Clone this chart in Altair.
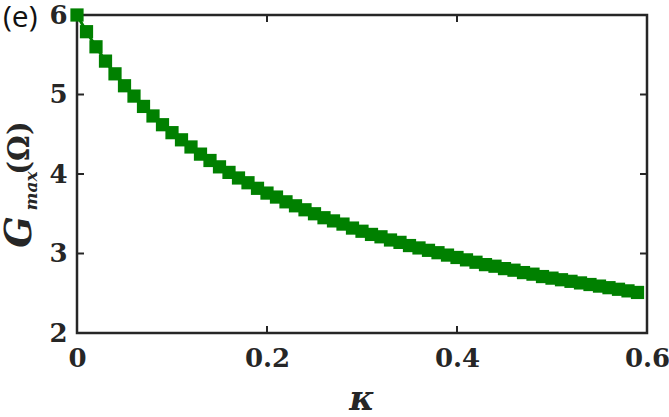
import altair as alt
import pandas as pd

kappa = [0.00, 0.01, 0.02, 0.03, 0.04, 0.05, 0.06, 0.07, 0.08, 0.09,
         0.10, 0.11, 0.12, 0.13, 0.14, 0.15, 0.16, 0.17, 0.18, 0.19,
         0.20, 0.21, 0.22, 0.23, 0.24, 0.25, 0.26, 0.27, 0.28, 0.29,
         0.30, 0.31, 0.32, 0.33, 0.34, 0.35, 0.36, 0.37, 0.38, 0.39,
         0.40, 0.41, 0.42, 0.43, 0.44, 0.45, 0.46, 0.47, 0.48, 0.49,
         0.50, 0.51, 0.52, 0.53, 0.54, 0.55, 0.56, 0.57, 0.58, 0.59]
gmax = [6.00, 5.79, 5.60, 5.42, 5.26, 5.11, 4.98, 4.85, 4.73, 4.62,
        4.52, 4.43, 4.34, 4.25, 4.17, 4.09, 4.02, 3.95, 3.89, 3.82,
        3.76, 3.71, 3.65, 3.60, 3.55, 3.50, 3.45, 3.41, 3.37, 3.32,
        3.28, 3.24, 3.21, 3.17, 3.14, 3.10, 3.07, 3.04, 3.01, 2.98,
        2.95, 2.92, 2.89, 2.86, 2.84, 2.81, 2.79, 2.76, 2.74, 2.71,
        2.69, 2.67, 2.65, 2.63, 2.61, 2.59, 2.57, 2.55, 2.53, 2.51]

x_tick_values = [0, 0.2, 0.4, 0.6]
y_tick_values = [2, 3, 4, 5, 6]
x_inner_ticks = [0.2, 0.4]
y_inner_ticks = [3, 4, 5]

W, H = 570, 318
GREEN = "#008000"
INK = "#262626"

df = pd.DataFrame({"kappa": kappa, "g": gmax})
xs = alt.Scale(domain=[0, 0.6], nice=False, zero=False)
ys = alt.Scale(domain=[2, 6], nice=False, zero=False)

xaxis = alt.Axis(values=x_tick_values, grid=False, domain=False, ticks=False,
                 labelFlush=False,
                 labelFont="DejaVu Serif", labelFontWeight="bold", labelFontSize=26,
                 labelColor=INK, labelPadding=12,
                 labelExpr="datum.value == 0 ? '0' : format(datum.value, '.1f')",
                 title=None)
yaxis = alt.Axis(values=y_tick_values, grid=False, domain=False, ticks=False,
                 labelFlush=False,
                 labelFont="DejaVu Serif", labelFontWeight="bold", labelFontSize=26,
                 labelColor=INK, labelPadding=10, format="d", title=None)

base = alt.Chart(df)
line = base.mark_line(color=GREEN, strokeWidth=3, clip=False).encode(
    x=alt.X("kappa:Q", scale=xs, axis=xaxis),
    y=alt.Y("g:Q", scale=ys, axis=yaxis),
)
pts = base.mark_point(shape="square", filled=True, color=GREEN, size=175,
                      opacity=1, clip=False).encode(
    x=alt.X("kappa:Q", scale=xs),
    y=alt.Y("g:Q", scale=ys),
)

xt = alt.Chart(pd.DataFrame({"v": x_inner_ticks}))
yt = alt.Chart(pd.DataFrame({"v": y_inner_ticks}))
rule_style = dict(color=INK, strokeWidth=2)
xb = xt.mark_rule(**rule_style).encode(x=alt.X("v:Q", scale=xs), y=alt.value(H), y2=alt.value(H - 7))
xtop = xt.mark_rule(**rule_style).encode(x=alt.X("v:Q", scale=xs), y=alt.value(0), y2=alt.value(7))
yl = yt.mark_rule(**rule_style).encode(y=alt.Y("v:Q", scale=ys), x=alt.value(0), x2=alt.value(7))
yr = yt.mark_rule(**rule_style).encode(y=alt.Y("v:Q", scale=ys), x=alt.value(W), x2=alt.value(W - 7))

one = pd.DataFrame({"t": ["x"]})
def label(txt, x, y, **kw):
    return alt.Chart(one).mark_text(text=txt, **kw).encode(x=alt.value(x), y=alt.value(y))

panel = label("(e)", -74, 12, font="Open Sans", fontSize=30, align="left",
              baseline="alphabetic", color="#111111")
g_lbl = label("G", -57, 217, font="DejaVu Serif", fontStyle="italic", fontWeight="bold",
              fontSize=37, angle=270, align="center", baseline="middle", color=INK)
max_lbl = label("max", -45, 176, font="DejaVu Serif", fontStyle="italic", fontWeight="bold",
                fontSize=17, angle=270, align="center", baseline="middle", color=INK)
om_lbl = label("(Ω)", -57, 133, font="DejaVu Serif", fontWeight="bold", fontSize=29,
               angle=270, align="center", baseline="middle", color=INK)
k_lbl = label("κ", 285, H + 77, font="DejaVu Serif", fontStyle="italic", fontWeight="bold",
              fontSize=34, align="center", baseline="alphabetic", color=INK)

chart = alt.layer(line, pts, xb, xtop, yl, yr, panel, g_lbl, max_lbl, om_lbl, k_lbl).properties(
    width=W, height=H,
    background="white",
    autosize=alt.AutoSizeParams(type="none"),
    padding={"left": 77, "top": 15, "right": 22, "bottom": 84},
).configure_view(stroke=INK, strokeWidth=2.5)

chart.save("out.html", embed_options={"renderer": "svg", "actions": False})
